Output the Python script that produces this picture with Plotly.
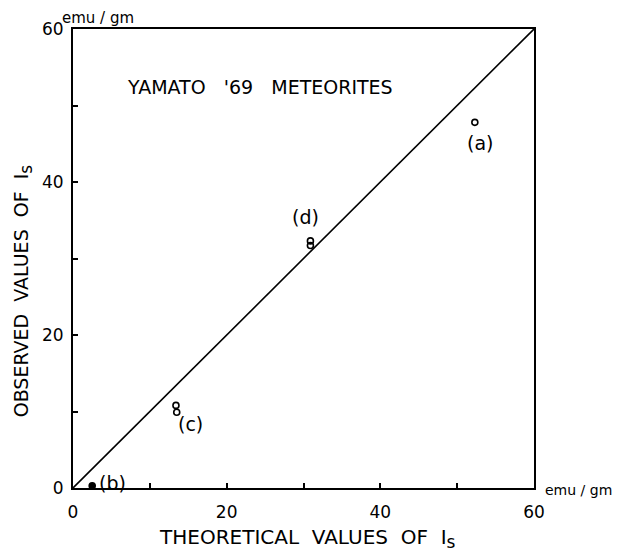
import plotly.graph_objects as go

# observed vs theoretical saturation magnetisation (emu/gm)
labels = ["(a)", "(b)", "(c)", "(c)", "(d)", "(d)"]
theoretical = [52.3, 2.5, 13.4, 13.5, 30.9, 30.9]
observed = [47.8, 0.3, 10.8, 9.9, 32.3, 31.7]
filled = [False, True, False, False, False, False]

line_x = [0, 60]
line_y = [0, 60]

tick_vals = [0, 10, 20, 30, 40, 50, 60]
tick_text = ["0", "", "20", "", "40", "", "60"]

FONT = "DejaVu Sans"
IS = "I<sub><span style='font-size:17px'>s</span></sub>"

fig = go.Figure()

fig.add_trace(
    go.Scatter(
        x=line_x,
        y=line_y,
        mode="lines",
        line=dict(color="black", width=1.6),
        showlegend=False,
        hoverinfo="skip",
    )
)

fig.add_trace(
    go.Scatter(
        x=theoretical,
        y=observed,
        mode="markers",
        marker=dict(
            symbol=["circle" if f else "circle-open" for f in filled],
            size=6,
            color="black",
            line=dict(color="black", width=1.6),
        ),
        text=labels,
        showlegend=False,
    )
)

# label offsets in pixels from the first point of each group
label_shift = {"(a)": (5, -21), "(b)": (20, 3), "(c)": (15, -19), "(d)": (-5, 24)}
seen = set()
for lab, xv, yv in zip(labels, theoretical, observed):
    if lab in seen:
        continue
    seen.add(lab)
    dx, dy = label_shift[lab]
    fig.add_annotation(
        x=xv, y=yv, text=lab, showarrow=False,
        xshift=dx, yshift=dy,
        font=dict(family=FONT, size=19, color="black"),
    )


def paper_text(x, y, text, size, **kw):
    fig.add_annotation(
        x=x, y=y, xref="paper", yref="paper", text=text, showarrow=False,
        xanchor=kw.pop("xanchor", "center"), yanchor="middle",
        font=dict(family=FONT, size=size, color="black"), **kw,
    )


paper_text(0.406, 0.873, "YAMATO   '69   METEORITES", 19)
paper_text(0.054, 1.024, "emu / gm", 15)
paper_text(1.02, -0.004, "emu / gm", 14, xanchor="left")
paper_text(0.508, -0.11, "THEORETICAL  VALUES  OF  " + IS, 20)
paper_text(-0.108, 0.429, "OBSERVED  VALUES  OF  " + IS, 19, textangle=-90)

axis_style = dict(
    range=[0, 60],
    tickvals=tick_vals,
    ticktext=tick_text,
    ticks="inside",
    ticklen=5,
    tickwidth=1.5,
    tickcolor="black",
    showgrid=False,
    zeroline=False,
    showline=True,
    linecolor="black",
    linewidth=2,
    mirror=True,
    tickfont=dict(family=FONT, size=17, color="black"),
)

fig.update_xaxes(**axis_style, ticklabelstandoff=8)
fig.update_yaxes(**axis_style, ticklabelstandoff=4)

# page body adds ~8px offset, so figure is 8px smaller than the window
fig.update_layout(
    width=612,
    height=543,
    margin=dict(l=65, r=86, t=21, b=63),
    plot_bgcolor="white",
    paper_bgcolor="white",
    font=dict(family=FONT, color="black"),
)

fig.write_html("out.html")
